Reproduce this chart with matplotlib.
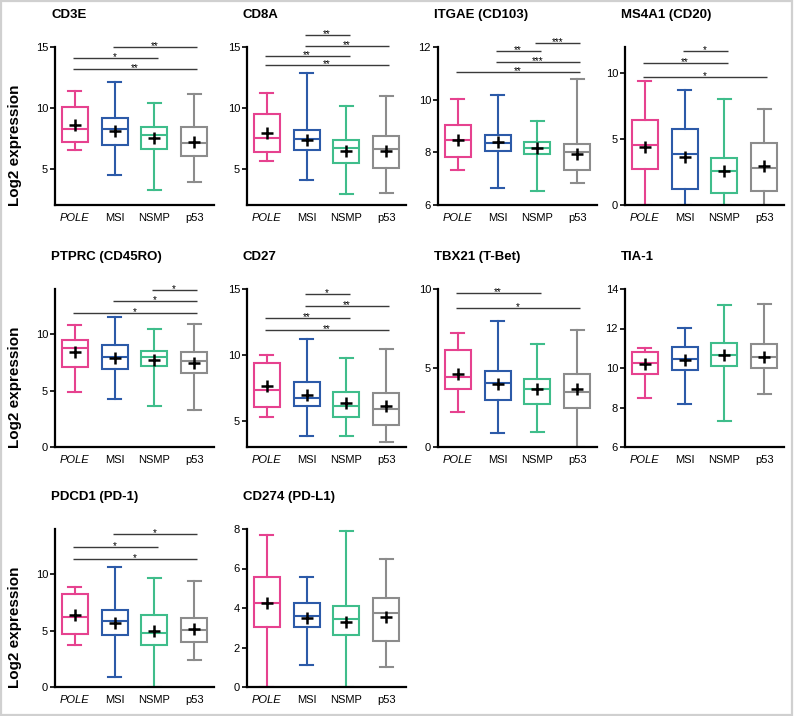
import matplotlib.pyplot as plt
from matplotlib.patches import Rectangle

plt.rcParams['font.family'] = ['Liberation Sans', 'DejaVu Sans']

# groups and colours
groups = ['POLE', 'MSI', 'NSMP', 'p53']
group_colors = ['#e6428f', '#2c5aa8', '#3fbd8b', '#8c8c8c']

# each gene: one row per group -> [whisker low, Q1, median, Q3, whisker high, mean]
cd3e = [[6.52, 7.20, 8.22, 10.04, 11.42, 8.58],
        [4.50, 6.93, 8.25, 9.13, 12.08, 8.09],
        [3.26, 6.60, 7.75, 8.44, 10.43, 7.48],
        [3.90, 6.02, 7.07, 8.44, 11.12, 7.20]]
cd8a = [[5.64, 6.38, 7.51, 9.50, 11.22, 7.90],
        [4.03, 6.52, 7.43, 8.18, 12.82, 7.35],
        [2.93, 5.47, 6.71, 7.35, 10.17, 6.46],
        [3.01, 5.06, 6.60, 7.68, 11.00, 6.46]]
itgae = [[7.34, 7.81, 8.47, 9.03, 10.04, 8.48],
         [6.66, 8.04, 8.35, 8.67, 10.17, 8.38],
         [6.55, 7.93, 8.15, 8.38, 9.18, 8.15],
         [6.83, 7.34, 8.02, 8.33, 10.77, 7.93]]
ms4a1 = [[0.0, 2.73, 4.52, 6.48, 9.41, 4.39],
         [0.0, 1.20, 3.88, 5.74, 8.72, 3.62],
         [0.0, 0.89, 2.60, 3.57, 8.04, 2.55],
         [0.0, 1.07, 2.78, 4.69, 7.27, 2.93]]
ptprc = [[4.85, 7.12, 8.76, 9.50, 10.82, 8.38],
         [4.21, 6.91, 7.94, 9.06, 11.56, 7.88],
         [3.60, 7.15, 7.94, 8.47, 10.44, 7.74],
         [3.29, 6.53, 7.59, 8.38, 10.88, 7.41]]
cd27 = [[5.25, 6.02, 7.34, 9.38, 9.96, 7.62],
        [3.80, 6.09, 6.73, 7.90, 11.18, 6.98],
        [3.80, 5.25, 6.14, 7.16, 9.78, 6.32],
        [3.40, 4.67, 5.89, 7.11, 10.42, 6.09]]
tbx21 = [[2.22, 3.66, 4.46, 6.13, 7.21, 4.61],
         [0.91, 2.96, 4.08, 4.82, 7.95, 3.97],
         [0.95, 2.75, 3.66, 4.33, 6.55, 3.66],
         [0.0, 2.49, 3.45, 4.65, 7.40, 3.66]]
tia1 = [[8.46, 9.68, 10.24, 10.80, 11.00, 10.19],
        [8.20, 9.90, 10.46, 11.05, 12.02, 10.41],
        [7.30, 10.10, 10.66, 11.29, 13.17, 10.66],
        [8.68, 10.02, 10.54, 11.22, 13.24, 10.54]]
pdcd1 = [[3.73, 4.67, 6.21, 8.28, 8.90, 6.36],
         [0.92, 4.59, 5.86, 6.80, 10.59, 5.71],
         [0.0, 3.70, 4.82, 6.36, 9.70, 4.97],
         [2.37, 3.99, 5.03, 6.09, 9.35, 5.18]]
cd274 = [[0.0, 3.05, 4.27, 5.59, 7.71, 4.24],
         [1.10, 3.05, 3.59, 4.24, 5.59, 3.51],
         [0.0, 2.63, 3.42, 4.10, 7.92, 3.31],
         [1.02, 2.34, 3.76, 4.49, 6.47, 3.53]]

# significance brackets: (group from, group to, y value, label)
cd3e_sig = [(1, 3, 15.0, '**'), (0, 2, 14.1, '*'), (0, 3, 13.2, '**')]
cd8a_sig = [(1, 2, 16.0, '**'), (1, 3, 15.1, '**'), (0, 2, 14.3, '**'), (0, 3, 13.5, '**')]
itgae_sig = [(2, 3, 12.15, '***'), (1, 2, 11.85, '**'), (1, 3, 11.42, '***'), (0, 3, 11.04, '**')]
ms4a1_sig = [(1, 2, 11.7, '*'), (0, 2, 10.75, '**'), (0, 3, 9.7, '*')]
ptprc_sig = [(2, 3, 13.9, '*'), (1, 3, 12.9, '*'), (0, 3, 11.9, '*')]
cd27_sig = [(1, 2, 14.6, '*'), (1, 3, 13.7, '**'), (0, 2, 12.8, '**'), (0, 3, 11.9, '**')]
tbx21_sig = [(0, 2, 9.75, '**'), (0, 3, 8.8, '*')]
tia1_sig = []
pdcd1_sig = [(1, 3, 13.6, '*'), (0, 2, 12.4, '*'), (0, 3, 11.3, '*')]
cd274_sig = []

gene_names = ['CD3E', 'CD8A', 'ITGAE (CD103)', 'MS4A1 (CD20)',
              'PTPRC (CD45RO)', 'CD27', 'TBX21 (T-Bet)', 'TIA-1',
              'PDCD1 (PD-1)', 'CD274 (PD-L1)']
gene_data = [cd3e, cd8a, itgae, ms4a1, ptprc, cd27, tbx21, tia1, pdcd1, cd274]
gene_sigs = [cd3e_sig, cd8a_sig, itgae_sig, ms4a1_sig, ptprc_sig, cd27_sig,
             tbx21_sig, tia1_sig, pdcd1_sig, cd274_sig]
y_ranges = [(2, 15), (2, 15), (6, 12), (0, 12), (0, 14), (3, 15), (0, 10), (6, 14), (0, 14), (0, 8)]
y_ticks = [[5, 10, 15], [5, 10, 15], [6, 8, 10, 12], [0, 5, 10], [0, 5, 10],
           [5, 10, 15], [0, 5, 10], [6, 8, 10, 12, 14], [0, 5, 10], [0, 2, 4, 6, 8]]

# figure layout in pixels (794 x 716)
W, H = 794, 716
fig = plt.figure(figsize=(W / 100, H / 100), dpi=100)
col_left = [55, 247, 438, 625]
row_top = [47, 289, 529]
ax_w, ax_h = 159, 158

for k, name in enumerate(gene_names):
    r, c = divmod(k, 4)
    left, top = col_left[c], row_top[r]
    ax = fig.add_axes([left / W, 1 - (top + ax_h) / H, ax_w / W, ax_h / H])

    stats = []
    for g, row in zip(groups, gene_data[k]):
        lo, q1, med, q3, hi, mean = row
        stats.append(dict(label=g, whislo=lo, q1=q1, med=med, q3=q3, whishi=hi,
                          mean=mean, fliers=[]))
    bp = ax.bxp(stats, positions=[1, 2, 3, 4], widths=0.65, capwidths=0.33,
                patch_artist=True, showmeans=True, showfliers=False,
                meanprops=dict(marker='+', markeredgecolor='black', markersize=8,
                               markeredgewidth=1.8, zorder=5))
    for i, col in enumerate(group_colors):
        bp['boxes'][i].set(facecolor='white', edgecolor=col, linewidth=1.5)
        bp['medians'][i].set(color=col, linewidth=1.5)
        for j in (2 * i, 2 * i + 1):
            bp['whiskers'][j].set(color=col, linewidth=1.5)
            bp['caps'][j].set(color=col, linewidth=1.5)

    # significance brackets
    for a, b, y, lab in gene_sigs[k]:
        ax.plot([a + 1 - 0.05, b + 1 + 0.08], [y, y], color='#3a3a3a', lw=1.0,
                clip_on=False, solid_capstyle='butt')
        ax.annotate(lab, xy=((a + b) / 2 + 1.0, y), xytext=(0, -1.5),
                    textcoords='offset points', ha='center', va='baseline',
                    fontsize=7, annotation_clip=False)

    ax.set_xlim(0.5, 4.5)
    ax.set_ylim(y_ranges[k])
    ax.set_yticks(y_ticks[k])
    ax.set_xticks([1, 2, 3, 4])
    ax.set_xticklabels(groups, fontsize=8)
    ax.get_xticklabels()[0].set_style('italic')
    ax.tick_params(axis='x', length=0, pad=6)
    ax.tick_params(axis='y', length=3.5, width=1.2, labelsize=8, pad=1.5)
    for s in ('top', 'right'):
        ax.spines[s].set_visible(False)
    for s in ('left', 'bottom'):
        ax.spines[s].set_linewidth(1.6)

    # title above each panel
    fig.text((left - 4) / W, 1 - (top - 32) / H, name, ha='left', va='center',
             fontsize=9.5, fontweight='bold')
    if c == 0:
        fig.text(15 / W, 1 - (top + ax_h + 1) / H, 'Log2 expression', rotation=90,
                 ha='center', va='bottom', fontsize=11, fontweight='bold')

# light grey frame around the whole figure
fig.patches.append(Rectangle((0.001, 0.002), 0.997, 0.997, transform=fig.transFigure,
                             fill=False, edgecolor='#d0d0d0', linewidth=1.6))

fig.savefig('out.png', dpi=100)
